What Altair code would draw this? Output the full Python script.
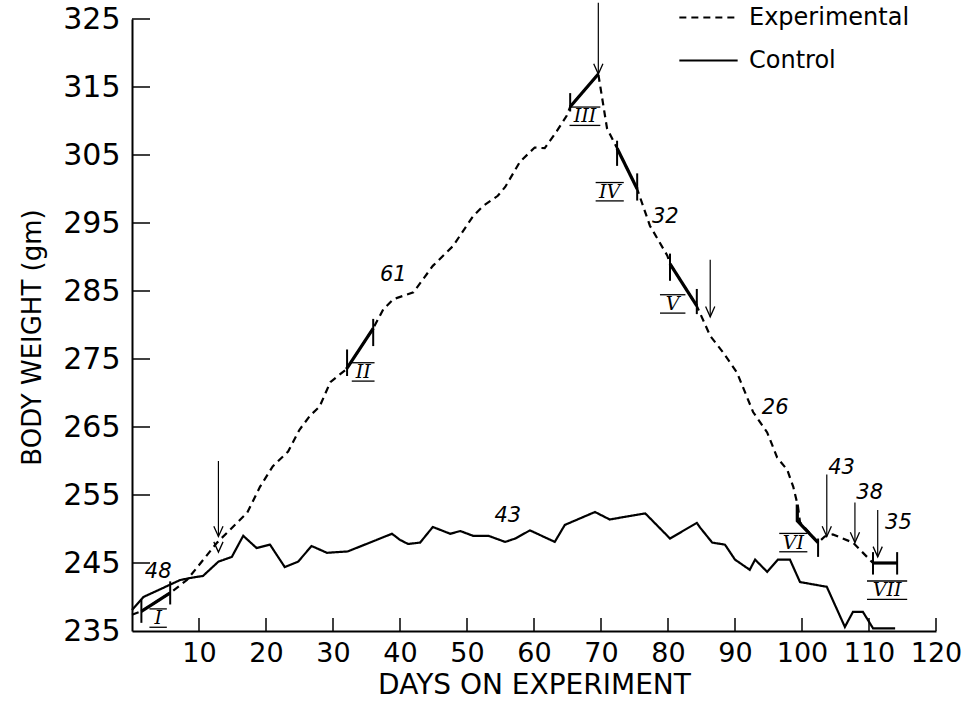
import altair as alt
import pandas as pd

# ---- data ----
exp_days = [0, 1.4, 5.7, 8.2, 12.7, 17.2, 19.1, 21, 23.3, 25, 26.6, 28, 29.6, 32, 36,
            37.5, 39, 42, 43.5, 44.9, 47.9, 50.9, 52.4, 54.6, 55.7, 57.9, 60.1, 61.6,
            63.4, 64.9, 65.4, 69.6, 70.9, 72.4, 75.4, 77.3, 79.9, 80.3, 84.3, 86.3,
            88.2, 90.3, 92.7, 94.8, 96.3, 97.8, 98.7, 99.4, 99.7, 102.4, 103.4, 104.6,
            107.6, 110.6]
exp_wt = [237.4, 237.9, 240.6, 242.5, 248, 252.4, 256.2, 259.2, 261.4, 264.6, 266.7,
          268, 271.6, 273.5, 279.5, 282.3, 283.8, 284.8, 286.8, 288.7, 291.6, 296,
          297.5, 299, 300.3, 304, 306.1, 306, 308.5, 310.8, 312.1, 316.9, 308.9, 306,
          300, 294.6, 290.2, 289, 282.8, 278.4, 276, 273, 267.2, 264.2, 260.5, 258.7,
          256.2, 253.3, 251, 248, 248.9, 249.2, 248, 245]

ctrl_days = [0, 1.7, 3.9, 7.2, 8.7, 10.6, 12.9, 14.9, 16.6, 18.6, 20.6, 22.8, 24.8,
             26.8, 29.1, 32.2, 38.8, 40, 41.2, 43, 44.9, 47.5, 49, 50.9, 53.2, 55.7,
             57.2, 59.4, 63.1, 64.6, 69.1, 71.3, 76.6, 80.3, 84.3, 84.8, 86.6, 88.5,
             90, 92.2, 93, 94.8, 96.4, 98.2, 99.7, 103.7, 106.4, 107.6, 109.1, 110.6,
             113.9]
ctrl_wt = [238.1, 240, 241, 242.5, 242.8, 243.1, 245.2, 245.9, 249, 247.2, 247.7,
           244.4, 245.2, 247.5, 246.5, 246.7, 249.3, 248.4, 247.8, 248, 250.3, 249.3,
           249.7, 249, 249, 248.1, 248.6, 249.8, 248.1, 250.6, 252.5, 251.4, 252.3,
           248.6, 250.9, 250.2, 248, 247.7, 245.5, 244, 245.5, 243.7, 245.5, 245.5,
           242.2, 241.5, 235.6, 237.8, 237.8, 235.4, 235.4]

# solid (measured) segments on the experimental curve
seg_names = ["I", "I", "II", "II", "III", "III", "IV", "IV", "V", "V",
             "VI", "VI", "VI", "VII", "VII"]
seg_days = [1.4, 5.7, 32, 36, 65.4, 69.6, 72.4, 75.4, 80.3, 84.3,
            99.3, 99.3, 102.4, 110.6, 114.2]
seg_wt = [237.9, 240.6, 273.5, 279.5, 312.1, 316.9, 306, 300, 289, 282.8,
          253.6, 251.2, 248, 245, 245]

# end bars of the segments
bar_days = [1.4, 5.7, 32.1, 36, 65.4, 72.4, 75.4, 80.3, 84.3, 102.4, 110.6, 114.2]
bar_lo = [236.2, 238.9, 272.5, 276.9, 311.4, 303.4, 298.3, 286.5, 281.6, 245.9, 243.3, 243.3]
bar_hi = [239.6, 242.3, 276.4, 280.9, 314.1, 307.1, 302.3, 290.5, 285.3, 248.6, 246.6, 246.6]

# arrows (day, top, head)
arrow_days = [12.9, 69.6, 86.3, 103.7, 107.9, 111.3]
arrow_top = [260, 327.4, 289.6, 258, 253.9, 252.8]
arrow_head = [248.9, 316.9, 281.2, 248.9, 248.0, 245.9]
extra_head_day = [12.9]
extra_head_wt = [246.6]

# italic numbers
num_text = ["48", "61", "43", "32", "26", "43", "38", "35"]
num_days = [3.9, 39, 56.1, 79.6, 96.0, 105.9, 110.1, 114.4]
num_wt = [243.7, 287.3, 251.9, 295.9, 267.8, 259.0, 255.3, 250.9]

# roman numerals
rom_text = ["I", "II", "III", "IV", "V", "VI", "VII"]
rom_days = [3.9, 34.5, 67.6, 71.3, 80.7, 98.7, 112.7]
rom_wt = [236.9, 273.1, 310.7, 299.6, 283.1, 248.0, 241.0]
rom_half = [1.3, 1.7, 2.3, 2.1, 1.9, 2.1, 3.0]

x_ticks = [10, 20, 30, 40, 50, 60, 70, 80, 90, 100, 110, 120]
y_labels = [235, 245, 255, 265, 275, 285, 295, 305, 315, 325]
y_ticks = [245, 255, 265, 275, 285, 295, 305, 315, 325]

# ---- tables ----
lines = pd.DataFrame({
    "day": exp_days + ctrl_days,
    "wt": exp_wt + ctrl_wt,
    "group": ["Experimental"] * len(exp_days) + ["Control"] * len(ctrl_days),
})
segs = pd.DataFrame({"day": seg_days, "wt": seg_wt, "seg": seg_names})
bars = pd.DataFrame({"day": bar_days, "lo": bar_lo, "hi": bar_hi})
arrows = pd.DataFrame({"day": arrow_days, "top": arrow_top, "head": arrow_head})
heads = pd.DataFrame({"day": arrow_days + extra_head_day, "wt": arrow_head + extra_head_wt})
nums = pd.DataFrame({"day": num_days, "wt": num_wt, "t": num_text})
roms = pd.DataFrame({"day": rom_days, "wt": rom_wt, "t": rom_text, "h": rom_half})
roms["x1"] = roms["day"] - roms["h"]
roms["x2"] = roms["day"] + roms["h"]
roms["top"] = roms["wt"] + 1.35
roms["bot"] = roms["wt"] - 1.35
xt = pd.DataFrame({"day": x_ticks})
yt = pd.DataFrame({"wt": y_ticks})

FONT = "DejaVu Sans"
xscale = alt.Scale(domain=[0, 120], nice=False)
yscale = alt.Scale(domain=[235, 325], nice=False, zero=False)

x_axis = alt.Axis(values=x_ticks, title="DAYS ON EXPERIMENT", tickSize=0,
                  labelFontSize=27, labelPadding=9, labelFont=FONT, labelColor="black",
                  labelOverlap=False, labelFlush=False,
                  titleFont=FONT, titleFontSize=28, titleFontWeight="normal",
                  titleColor="black", titlePadding=5, grid=False,
                  domainColor="black", domainWidth=2)
y_axis = alt.Axis(values=y_labels, title="BODY WEIGHT (gm)", tickSize=0,
                  labelFontSize=30, labelPadding=12, labelFont=FONT, labelColor="black",
                  labelOverlap=False, labelFlush=False,
                  titleFont=FONT, titleFontSize=26, titleFontWeight="normal",
                  titleColor="black", titleX=-100, titleY=318, titleAngle=270,
                  titleAlign="center", titleBaseline="middle", grid=False,
                  domainColor="black", domainWidth=2)

X = alt.X("day:Q", scale=xscale, axis=x_axis)
Y = alt.Y("wt:Q", scale=yscale, axis=y_axis)

line_layer = alt.Chart(lines).mark_line(color="black", strokeWidth=2.2).encode(
    x=X, y=Y,
    detail="group:N",
    strokeDash=alt.StrokeDash(
        "group:N",
        scale=alt.Scale(domain=["Experimental", "Control"], range=[[7, 5], [1, 0]]),
        legend=alt.Legend(title=None, orient="none", legendX=546, legendY=-32,
                          symbolType="stroke", symbolSize=3400, symbolStrokeWidth=2,
                          symbolStrokeColor="black", labelFont=FONT, labelFontSize=24,
                          labelColor="black", labelOffset=10, rowPadding=-6,
                          labelLimit=400, padding=0),
    ),
)

seg_layer = alt.Chart(segs).mark_line(color="black", strokeWidth=3.2).encode(
    x="day:Q", y="wt:Q", detail="seg:N", order=alt.Order("day:Q"))

bar_layer = alt.Chart(bars).mark_rule(color="black", strokeWidth=2).encode(
    x="day:Q", y="lo:Q", y2="hi:Q")

arrow_layer = alt.Chart(arrows).mark_rule(color="black", strokeWidth=1.2).encode(
    x="day:Q", y="top:Q", y2="head:Q")

head_layer = alt.Chart(heads).mark_point(
    shape="M -0.45 -1 L 0 0 L 0.45 -1", filled=False, color="black",
    strokeWidth=1.3, size=420, opacity=1).encode(x="day:Q", y="wt:Q")

num_layer = alt.Chart(nums).mark_text(
    font=FONT, fontStyle="italic", fontSize=21, color="black").encode(
    x="day:Q", y="wt:Q", text="t:N")

rom_layer = alt.Chart(roms).mark_text(
    font="DejaVu Serif", fontStyle="italic", fontSize=19, color="black").encode(
    x="day:Q", y="wt:Q", text="t:N")

rom_top = alt.Chart(roms).mark_rule(color="black", strokeWidth=1.3).encode(
    x="x1:Q", x2="x2:Q", y="top:Q")
rom_bot = alt.Chart(roms).mark_rule(color="black", strokeWidth=1.3).encode(
    x="x1:Q", x2="x2:Q", y="bot:Q")

xtick_layer = alt.Chart(xt).mark_rule(color="black", strokeWidth=1.5).encode(
    x="day:Q", y=alt.value(612), y2=alt.value(599))
ytick_layer = alt.Chart(yt).mark_rule(color="black", strokeWidth=1.5).encode(
    y="wt:Q", x=alt.value(0), x2=alt.value(18))

chart = alt.layer(
    line_layer, seg_layer, bar_layer, arrow_layer, head_layer, num_layer,
    rom_layer, rom_top, rom_bot, xtick_layer, ytick_layer,
).properties(
    width=804, height=612,
    autosize=alt.AutoSizeParams(type="none"),
    padding={"left": 132, "top": 19, "right": 36, "bottom": 80},
    background="white",
).configure_view(stroke=None)

chart.save("out.html", embed_options={"renderer": "svg", "actions": False})
